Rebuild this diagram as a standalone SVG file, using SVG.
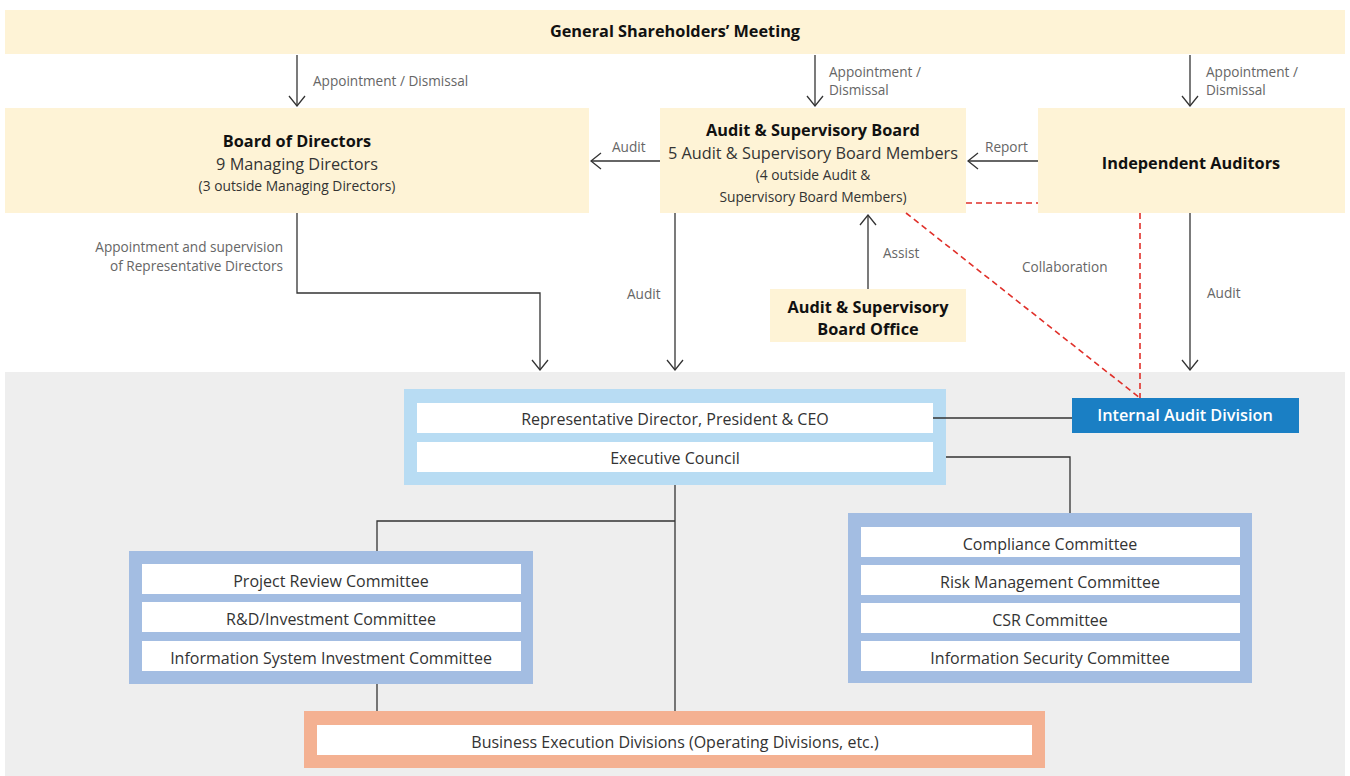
<svg xmlns="http://www.w3.org/2000/svg" width="1350" height="776" viewBox="0 0 1350 776">
<style>
.cream{fill:#fef3d6}
.t{font-family:"Open Sans","Noto Sans",sans-serif;fill:#333;text-anchor:middle}
.b{font-weight:bold;fill:#111}
.lbl{font-family:"Open Sans","Noto Sans",sans-serif;fill:#666;font-size:13.6px}
.ln{stroke:#333;stroke-width:1.3;fill:none}
.arr{stroke:#333;stroke-width:1.3;fill:none;marker-end:url(#ah)}
.red{stroke:#e0302a;stroke-width:1.6;fill:none;stroke-dasharray:6 4}
.white{fill:#fff}
.item{font-family:"Open Sans","Noto Sans",sans-serif;fill:#333;font-size:16px;text-anchor:middle}
</style>
<defs>
<marker id="ah" viewBox="0 0 12 18" markerWidth="12" markerHeight="18" refX="11" refY="9" orient="auto" markerUnits="userSpaceOnUse">
<path d="M1,1 L11,9 L1,17" fill="none" stroke="#333" stroke-width="1.3"/>
</marker>
</defs>
<rect x="5" y="372" width="1340" height="404" fill="#eeeeee"/>

<g id="gsm">
<rect class="cream" x="5" y="10" width="1340" height="44"/>
<text class="t b" x="675" y="37" font-size="16.3">General Shareholders’ Meeting</text>
</g>
<g id="bod">
<rect class="cream" x="5" y="108" width="584" height="105"/>
<text class="t b" x="297" y="147" font-size="16.3">Board of Directors</text>
<text class="t" x="297" y="170" font-size="16.3">9 Managing Directors</text>
<text class="t" x="297" y="191" font-size="13.8">(3 outside Managing Directors)</text>
</g>
<g id="asb">
<rect class="cream" x="660" y="108" width="306" height="105"/>
<text class="t b" x="813" y="136" font-size="16.3">Audit &amp; Supervisory Board</text>
<text class="t" x="813" y="159" font-size="16.3">5 Audit &amp; Supervisory Board Members</text>
<text class="t" x="813" y="180" font-size="13.8">(4 outside Audit &amp;</text>
<text class="t" x="813" y="202" font-size="13.8">Supervisory Board Members)</text>
</g>
<g id="ia">
<rect class="cream" x="1038" y="108" width="307" height="105"/>
<text class="t b" x="1191" y="169" font-size="16.3">Independent Auditors</text>
</g>
<g id="asbo">
<rect class="cream" x="770" y="289" width="196" height="53"/>
<text class="t b" x="868" y="313" font-size="16.3">Audit &amp; Supervisory</text>
<text class="t b" x="868" y="335" font-size="16.3">Board Office</text>
</g>
<g id="iad">
<rect x="1072" y="398" width="227" height="35" fill="#1a7fc4"/>
<text class="t" x="1185" y="421" font-size="16.3" style="fill:#fff;font-weight:600">Internal Audit Division</text>
</g>
<g id="exec">
<rect x="404" y="389" width="542" height="96" fill="#b8dcf3"/>
<rect class="white" x="417" y="403" width="516" height="30"/>
<rect class="white" x="417" y="442" width="516" height="30"/>
<text class="item" x="675" y="425">Representative Director, President &amp; CEO</text>
<text class="item" x="675" y="464">Executive Council</text>
</g>
<g id="leftcom">
<rect x="129" y="551" width="404" height="133" fill="#a3bde2"/>
<rect class="white" x="142" y="564" width="379" height="30"/>
<rect class="white" x="142" y="602" width="379" height="30"/>
<rect class="white" x="142" y="641" width="379" height="30"/>
<text class="item" x="331" y="587">Project Review Committee</text>
<text class="item" x="331" y="625">R&amp;D/Investment Committee</text>
<text class="item" x="331" y="664">Information System Investment Committee</text>
</g>
<g id="rightcom">
<rect x="848" y="513" width="404" height="170" fill="#a3bde2"/>
<rect class="white" x="861" y="527" width="379" height="30"/>
<rect class="white" x="861" y="565" width="379" height="30"/>
<rect class="white" x="861" y="603" width="379" height="30"/>
<rect class="white" x="861" y="641" width="379" height="30"/>
<text class="item" x="1050" y="550">Compliance Committee</text>
<text class="item" x="1050" y="588">Risk Management Committee</text>
<text class="item" x="1050" y="626">CSR Committee</text>
<text class="item" x="1050" y="664">Information Security Committee</text>
</g>
<g id="bed">
<rect x="304" y="711" width="741" height="57" fill="#f4b192"/>
<rect class="white" x="317" y="725" width="715" height="30"/>
<text class="item" x="675" y="748">Business Execution Divisions (Operating Divisions, etc.)</text>
</g>

<g id="connectors">
<path class="arr" d="M297,55 V106"/>
<path class="arr" d="M815,55 V106"/>
<path class="arr" d="M1190,55 V106"/>
<path class="arr" d="M660,161 H591"/>
<path class="arr" d="M1038,161 H968"/>
<path class="arr" d="M868,289 V215"/>
<path class="arr" d="M297,213 V293 H540 V370"/>
<path class="arr" d="M675,213 V370"/>
<path class="arr" d="M1190,213 V370"/>
<path class="red" d="M966,203 H1038"/>
<path class="red" d="M1140,213 V398"/>
<path class="red" d="M906,213 L1140,398"/>
<path class="ln" d="M933,418 H1072"/>
<path class="ln" d="M946,457 H1070 V513"/>
<path class="ln" d="M675,485 V711"/>
<path class="ln" d="M675,521 H377 V551"/>
<path class="ln" d="M377,684 V711"/>
<text class="lbl" x="313" y="86">Appointment / Dismissal</text>
<text class="lbl" x="829" y="77">Appointment /</text>
<text class="lbl" x="829" y="95">Dismissal</text>
<text class="lbl" x="1206" y="77">Appointment /</text>
<text class="lbl" x="1206" y="95">Dismissal</text>
<text class="lbl" x="612" y="152">Audit</text>
<text class="lbl" x="985" y="152">Report</text>
<text class="lbl" x="883" y="258">Assist</text>
<text class="lbl" x="1022" y="272">Collaboration</text>
<text class="lbl" x="627" y="299">Audit</text>
<text class="lbl" x="1207" y="298">Audit</text>
<text class="lbl" x="283" y="252" text-anchor="end">Appointment and supervision</text>
<text class="lbl" x="283" y="271" text-anchor="end">of Representative Directors</text>
</g>
</svg>
